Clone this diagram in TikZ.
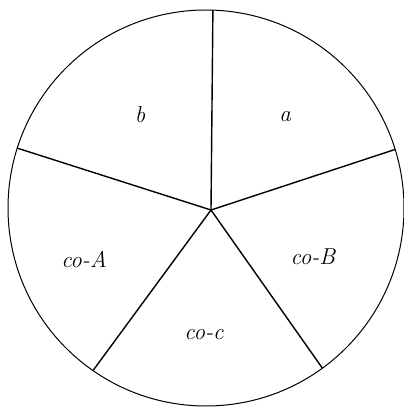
\documentclass[tikz,border=0pt]{standalone}
\usepackage{tikz}
\usetikzlibrary{calc}

\begin{document}
\begin{tikzpicture}[
  x=1pt, y=1pt,
  rim/.style={draw=black, line width=1pt},
  spoke/.style={draw=black, line width=1.4pt},
  sector/.style={font=\fontsize{23}{26}\selectfont\itshape, inner sep=1pt}
]
  \useasboundingbox (0,0) rectangle (404,407);
  \coordinate (O) at (206,199);
  \coordinate (hub) at (211,197);
  \draw[rim] (O) circle (198);
  % spokes out to the rim
  \foreach \ang [count=\i] in {88, 17.2, -54, 235.2, 162.4} {
    \coordinate (end\i) at ($(O)+(\ang:198)$);
    \draw[spoke] (hub) -- (end\i);
  }
  \node[sector] (lblb) at (140,292) {b};
  \node[sector] (lbla) at (285,290) {a};
  \node[sector] (lblcoA) at (84,148) {co-A};
  \node[sector] (lblcoB) at (313,150) {co-B};
  \node[sector] (lblcoc) at (204,72) {co-c};
\end{tikzpicture}
\end{document}
